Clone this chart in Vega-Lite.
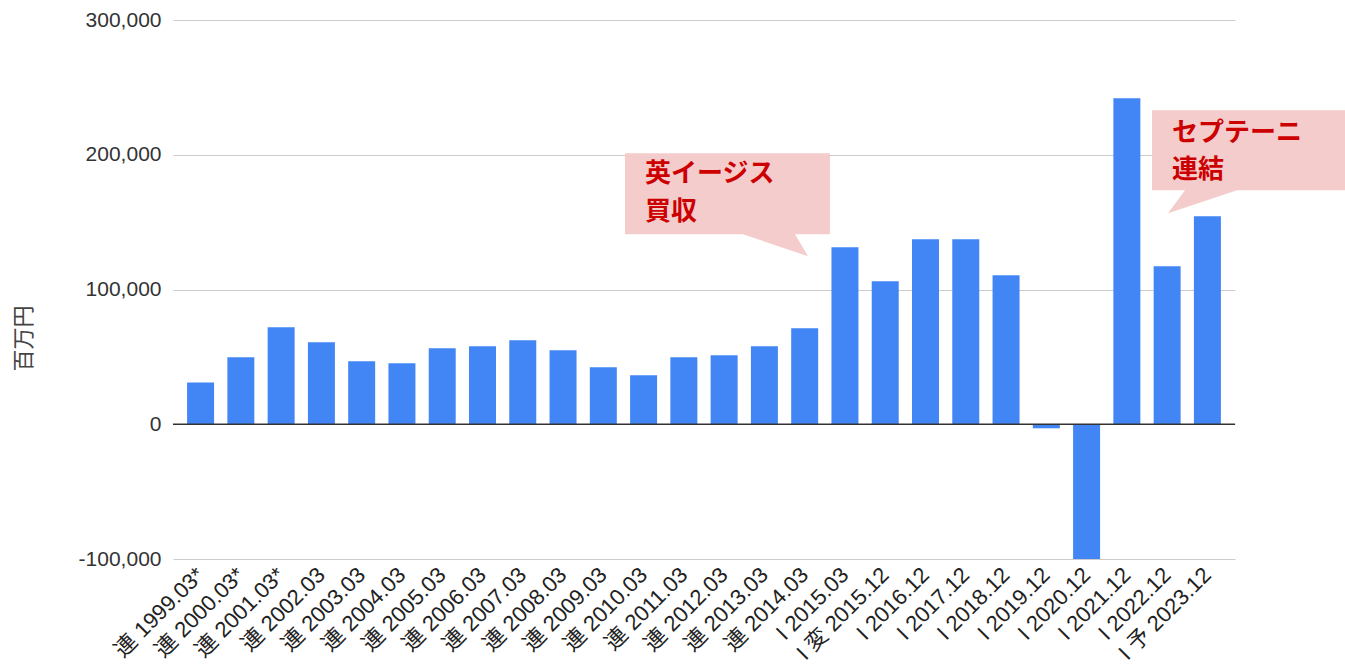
{
  "$schema": "https://vega.github.io/schema/vega-lite/v6.json",
  "autosize": {"type": "none"},
  "width": 1062,
  "height": 539,
  "padding": {"left": 173, "top": 20, "right": 110, "bottom": 111},
  "background": "white",
  "config": {
    "view": {"stroke": null},
    "font": "Liberation Sans, Arial, Noto Sans CJK JP, sans-serif"
  },
  "datasets": {
    "bars": [
      {"period": "連 1999.03*", "value": 31000},
      {"period": "連 2000.03*", "value": 49800},
      {"period": "連 2001.03*", "value": 72000},
      {"period": "連 2002.03", "value": 60900},
      {"period": "連 2003.03", "value": 46800},
      {"period": "連 2004.03", "value": 45300},
      {"period": "連 2005.03", "value": 56400},
      {"period": "連 2006.03", "value": 57900},
      {"period": "連 2007.03", "value": 62300},
      {"period": "連 2008.03", "value": 54900},
      {"period": "連 2009.03", "value": 42300},
      {"period": "連 2010.03", "value": 36400},
      {"period": "連 2011.03", "value": 49700},
      {"period": "連 2012.03", "value": 51200},
      {"period": "連 2013.03", "value": 57900},
      {"period": "連 2014.03", "value": 71200},
      {"period": "I 2015.03", "value": 131400},
      {"period": "I 変 2015.12", "value": 106100},
      {"period": "I 2016.12", "value": 137300},
      {"period": "I 2017.12", "value": 137300},
      {"period": "I 2018.12", "value": 110600},
      {"period": "I 2019.12", "value": -3000},
      {"period": "I 2020.12", "value": -100000},
      {"period": "I 2021.12", "value": 241900},
      {"period": "I 2022.12", "value": 117300},
      {"period": "I 予 2023.12", "value": 154400}
    ],
    "callouts": [
      {"id": "a", "o": 1, "i": 10.526, "v": 201110},
      {"id": "a", "o": 2, "i": 15.616, "v": 201110},
      {"id": "a", "o": 3, "i": 15.616, "v": 141000},
      {"id": "a", "o": 4, "i": 14.747, "v": 141000},
      {"id": "a", "o": 5, "i": 15.070, "v": 124670},
      {"id": "a", "o": 6, "i": 13.456, "v": 141000},
      {"id": "a", "o": 7, "i": 10.526, "v": 141000},
      {"id": "b", "o": 1, "i": 23.610, "v": 233020},
      {"id": "b", "o": 2, "i": 28.401, "v": 233020},
      {"id": "b", "o": 3, "i": 28.401, "v": 173650},
      {"id": "b", "o": 4, "i": 25.720, "v": 173650},
      {"id": "b", "o": 5, "i": 24.007, "v": 156580},
      {"id": "b", "o": 6, "i": 24.429, "v": 173650},
      {"id": "b", "o": 7, "i": 23.610, "v": 173650}
    ],
    "notes": [
      {"text": "英イージス", "i": 11.023, "v": 185500},
      {"text": "買収", "i": 11.023, "v": 157700},
      {"text": "セプテーニ", "i": 24.106, "v": 216300},
      {"text": "連結", "i": 24.106, "v": 188900}
    ]
  },
  "layer": [
    {
      "data": {"name": "bars"},
      "mark": {"type": "bar", "color": "#4285f4"},
      "encoding": {
        "x": {
          "field": "period", "type": "nominal", "sort": null,
          "scale": {"paddingInner": 0.33, "paddingOuter": 0.35},
          "axis": {
            "title": null, "labelAngle": -45, "labelAlign": "right", "labelBaseline": "middle",
            "labelFontSize": 22, "labelColor": "#222222", "ticks": false, "domain": false,
            "labelPadding": 12, "labelOverlap": false
          }
        },
        "y": {
          "field": "value", "type": "quantitative",
          "scale": {"domain": [-100000, 300000], "nice": false},
          "axis": {
            "title": "百万円", "values": [-100000, 0, 100000, 200000, 300000],
            "labelExpr": "replace(format(datum.value, ',d'), '−', '-')",
            "labelFontSize": 21, "labelColor": "#333333", "ticks": false, "domain": false,
            "labelPadding": 12, "gridColor": "#cccccc", "titleFontSize": 22, "titleFontWeight": "normal",
            "titleColor": "#444444", "titleX": -150, "titleY": 318, "titleAlign": "center",
            "titleBaseline": "middle", "titleAngle": -90
          }
        }
      }
    },
    {
      "data": {"values": [{"y": 0}]},
      "mark": {"type": "rule", "color": "#333333", "strokeWidth": 1.5},
      "encoding": {"y": {"field": "y", "type": "quantitative", "title": "百万円"}}
    },
    {
      "data": {"name": "callouts"},
      "mark": {"type": "line", "filled": true, "color": "#f4cccc", "strokeWidth": 0, "interpolate": "linear-closed"},
      "encoding": {
        "x": {"field": "i", "type": "quantitative", "scale": {"domain": [-0.695, 25.67], "nice": false, "zero": false}, "axis": null},
        "y": {"field": "v", "type": "quantitative", "title": "百万円"},
        "detail": {"field": "id"},
        "order": {"field": "o"}
      }
    },
    {
      "data": {"name": "notes"},
      "mark": {"type": "text", "align": "left", "baseline": "middle", "fontSize": 26, "fontWeight": "bold", "color": "#cc0000", "font": "Noto Sans CJK JP"},
      "encoding": {
        "x": {"field": "i", "type": "quantitative", "scale": {"domain": [-0.695, 25.67], "nice": false, "zero": false}, "axis": null},
        "y": {"field": "v", "type": "quantitative", "title": "百万円"},
        "text": {"field": "text"}
      }
    }
  ],
  "resolve": {"scale": {"x": "independent"}}
}
